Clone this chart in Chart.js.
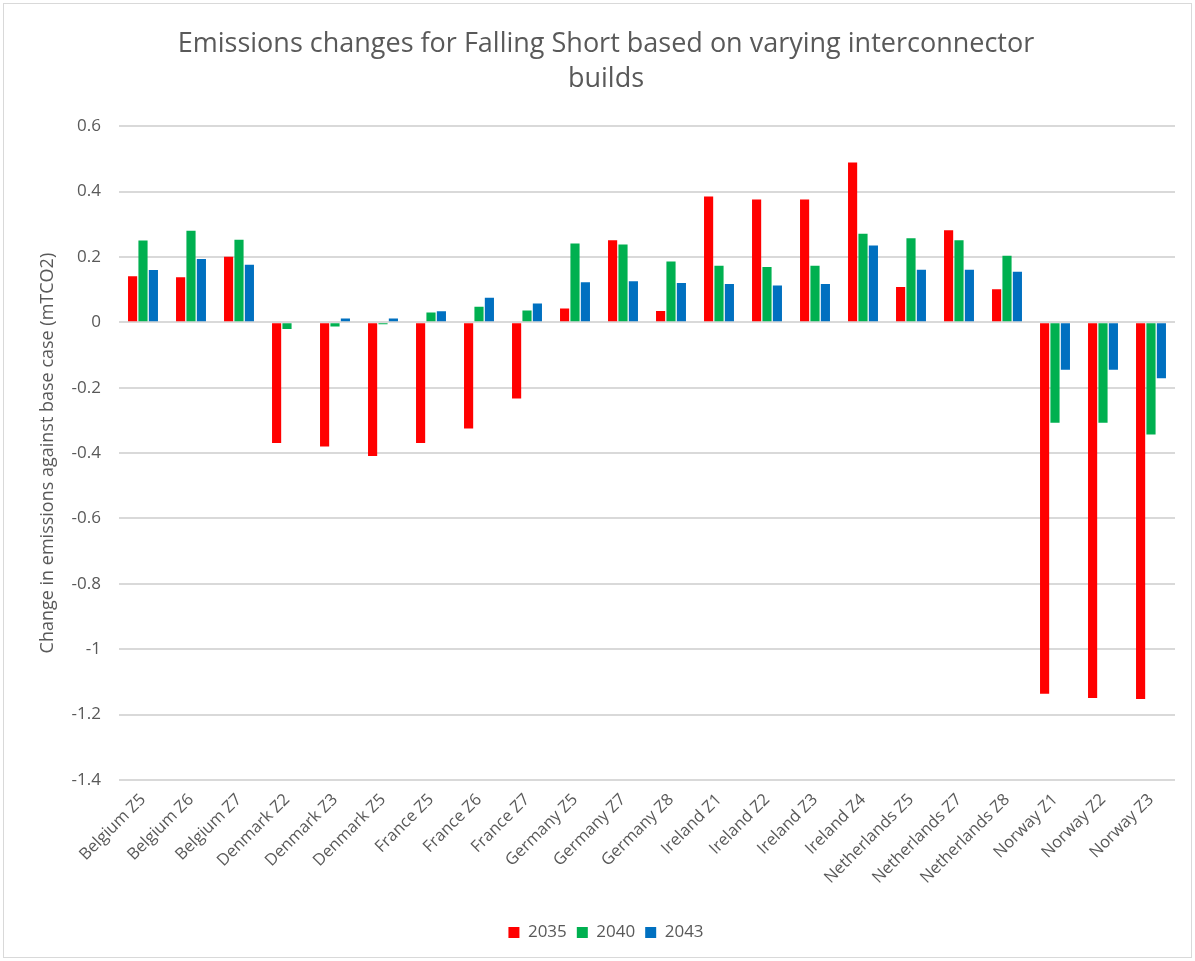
<!DOCTYPE html>
<html lang="en">
<head>
    <meta charset="UTF-8">
    <title>Emissions changes for Falling Short</title>
    <style>
        body {
            margin: 0;
            background: #fff;
        }
        .frame {
            position: absolute;
            left: 3px;
            top: 3px;
            width: 1187px;
            height: 953px;
            border: 1px solid #d9d9d9;
            pointer-events: none;
        }
        .wrap {
            position: absolute;
            left: 0;
            top: 0;
            width: 1195px;
            height: 961px;
        }
    </style>
    <script src="https://cdn.jsdelivr.net/npm/chart.js"></script>
</head>
<body>

<div class="wrap"><canvas id="emissionsChart" width="1195" height="961"></canvas></div>
<div class="frame"></div>

<script>
    // zones (categories)
    const zones = [
        'Belgium Z5', 'Belgium Z6', 'Belgium Z7',
        'Denmark Z2', 'Denmark Z3', 'Denmark Z5',
        'France Z5', 'France Z6', 'France Z7',
        'Germany Z5', 'Germany Z7', 'Germany Z8',
        'Ireland Z1', 'Ireland Z2', 'Ireland Z3', 'Ireland Z4',
        'Netherlands Z5', 'Netherlands Z7', 'Netherlands Z8',
        'Norway Z1', 'Norway Z2', 'Norway Z3'
    ];

    // change in emissions vs base case (mTCO2)
    const y2035 = [0.141, 0.138, 0.201, -0.369, -0.380, -0.409, -0.369, -0.325, -0.233,
                   0.042, 0.251, 0.035, 0.385, 0.376, 0.376, 0.489, 0.108, 0.282, 0.101,
                   -1.136, -1.149, -1.152];
    const y2040 = [0.250, 0.280, 0.253, -0.020, -0.013, -0.006, 0.030, 0.048, 0.036,
                   0.241, 0.238, 0.186, 0.173, 0.169, 0.173, 0.271, 0.257, 0.251, 0.204,
                   -0.307, -0.307, -0.343];
    const y2043 = [0.160, 0.194, 0.176, 0, 0.012, 0.012, 0.034, 0.075, 0.058,
                   0.123, 0.126, 0.120, 0.117, 0.113, 0.117, 0.235, 0.161, 0.161, 0.155,
                   -0.145, -0.145, -0.171];

    const seriesNames = ['2035', '2040', '2043'];
    const yTicks = { min: -1.4, max: 0.6, step: 0.2 };

    const textColor = '#595959';
    const fontFamily = '"Open Sans", sans-serif';

    Chart.defaults.font.family = fontFamily;
    Chart.defaults.color = textColor;

    const ctx = document.getElementById('emissionsChart').getContext('2d');
    new Chart(ctx, {
        type: 'bar',
        data: {
            labels: zones,
            datasets: [
                { label: seriesNames[0], data: y2035, backgroundColor: '#ff0000' },
                { label: seriesNames[1], data: y2040, backgroundColor: '#00b050' },
                { label: seriesNames[2], data: y2043, backgroundColor: '#0070c0' }
            ]
        },
        options: {
            responsive: false,
            animation: false,
            categoryPercentage: 0.65,
            barPercentage: 0.88,
            layout: {
                padding: { left: 37, right: 20, top: 0, bottom: 10 }
            },
            scales: {
                x: {
                    grid: { display: false },
                    border: { display: false },
                    ticks: {
                        color: textColor,
                        font: { size: 16.5 },
                        maxRotation: 45,
                        minRotation: 45,
                        autoSkip: false,
                        padding: 2
                    },
                    afterFit: (scale) => { scale.height = 134; }
                },
                y: {
                    min: yTicks.min,
                    max: yTicks.max,
                    grid: { color: '#d9d9d9', lineWidth: 2, drawTicks: false },
                    border: { display: false },
                    ticks: {
                        stepSize: yTicks.step,
                        color: textColor,
                        font: { size: 17 },
                        padding: 18,
                        callback: (v) => String(Math.round(v * 10) / 10)
                    },
                    title: {
                        display: true,
                        text: 'Change in emissions against base case (mTCO2)',
                        color: textColor,
                        font: { size: 18 },
                        padding: 0
                    },
                    afterFit: (scale) => { scale.width = 82; }
                }
            },
            plugins: {
                title: {
                    display: true,
                    text: ['Emissions changes for Falling Short based on varying interconnector', 'builds'],
                    color: textColor,
                    font: { size: 27, weight: 'normal', lineHeight: 1.3 },
                    padding: { top: 27, bottom: 29 }
                },
                legend: {
                    position: 'bottom',
                    labels: {
                        color: textColor,
                        font: { size: 17 },
                        boxWidth: 11,
                        boxHeight: 11,
                        padding: 10
                    }
                },
                tooltip: { enabled: false }
            }
        }
    });
</script>

</body>
</html>
